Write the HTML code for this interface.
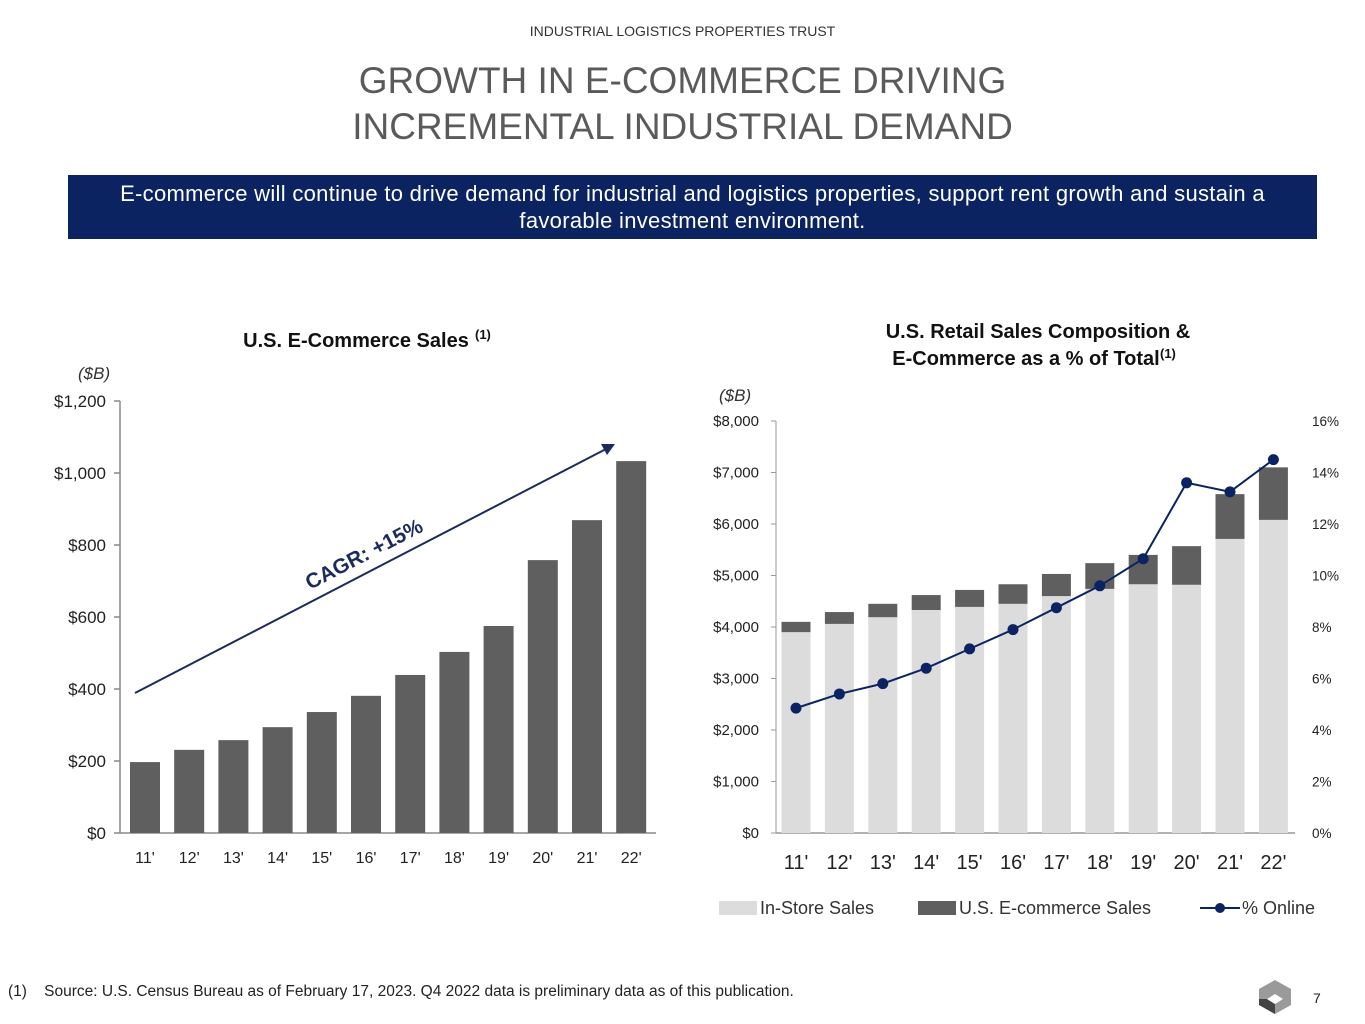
<!DOCTYPE html>
<html><head><meta charset="utf-8">
<style>
body{margin:0;width:1365px;height:1024px;background:#fff;font-family:"Liberation Sans",sans-serif;overflow:hidden;position:relative}
.abs{position:absolute}
</style></head>
<body>
<div class="abs" style="top:23px;left:0;width:1365px;text-align:center;font-size:14px;color:#333">INDUSTRIAL LOGISTICS PROPERTIES TRUST</div>
<div class="abs" style="top:58px;left:0;width:1365px;text-align:center;font-size:37px;line-height:46px;color:#5a5a5a">GROWTH IN E-COMMERCE DRIVING<br>INCREMENTAL INDUSTRIAL DEMAND</div>
<div class="abs" style="top:175px;left:68px;width:1249px;height:64px;background:#0b2461;color:#fff;font-size:22px;letter-spacing:0.3px;line-height:27px;text-align:center;padding-top:5px;box-sizing:border-box;white-space:nowrap">E-commerce will continue to drive demand for industrial and logistics properties, support rent growth and sustain a<br>favorable investment environment.</div>
<svg class="abs" style="left:0;top:0" width="1365" height="1024" id="svg"></svg>
<div class="abs" style="top:983px;left:8px;font-size:15.5px;color:#222;white-space:nowrap">(1)&nbsp;&nbsp;&nbsp; Source: U.S. Census Bureau as of February 17, 2023. Q4 2022 data is preliminary data as of this publication.</div>
<svg class="abs" style="left:1255px;top:977px" width="40" height="40">
<polygon points="20,3 36,12 36,28 20,37 4,28 4,12" fill="#9a9a9a"/>
<polygon points="4,28 20,37 20,27 12,22 4,22" fill="#444"/>
<polygon points="20,17 28,22 20,27 12,22" fill="#fff"/>
</svg>
<div class="abs" style="top:990px;left:1313px;font-size:14px;color:#222">7</div>
<script>
const categories=["11'","12'","13'","14'","15'","16'","17'","18'","19'","20'","21'","22'"];
const ecomSales=[197,231,258,294,336,381,439,503,575,758,869,1033];
const leftTicks=[0,200,400,600,800,1000,1200];
const leftTickLabels=["$0","$200","$400","$600","$800","$1,000","$1,200"];
const inStore=[3900,4060,4190,4330,4390,4450,4600,4740,4830,4820,5710,6080];
const ecomRetail=[200,230,260,290,330,380,430,500,570,750,870,1020];
const pctOnline=[4.85,5.4,5.8,6.4,7.15,7.9,8.75,9.6,10.65,13.6,13.25,14.5];
const rightTicks=[0,1000,2000,3000,4000,5000,6000,7000,8000];
const rightTickLabels=["$0","$1,000","$2,000","$3,000","$4,000","$5,000","$6,000","$7,000","$8,000"];
const pctTicks=[0,2,4,6,8,10,12,14,16];
const pctTickLabels=["0%","2%","4%","6%","8%","10%","12%","14%","16%"];

const svg=document.getElementById('svg');const NS='http://www.w3.org/2000/svg';
function el(t,a,txt){const e=document.createElementNS(NS,t);for(const k in a)e.setAttribute(k,a[k]);if(txt!==undefined)e.textContent=txt;svg.appendChild(e);return e;}

// left chart
const L={x0:120,x1:656,y0:833,y1:401,max:1200};
const ly=v=>L.y0-(v/L.max)*(L.y0-L.y1);
const lx=i=>145+i*44.2;
let t=el('text',{x:356,y:347,'text-anchor':'middle','font-size':20,'font-weight':'bold',fill:'#111'},'U.S. E-Commerce Sales');

t=el('text',{x:475,y:339,'font-size':13,'font-weight':'bold',fill:'#111'},'(1)');

t=el('text',{x:78,y:379,'font-size':17,'font-style':'italic',fill:'#333'},'($B)');

let a=el('line',{x1:L.x0,y1:L.y1,x2:L.x0,y2:L.y0,stroke:'#888','stroke-width':1.5});

a=el('line',{x1:L.x0,y1:L.y0,x2:L.x1,y2:L.y0,stroke:'#888','stroke-width':1.5});

leftTicks.forEach((v,i)=>{
 const k=el('line',{x1:L.x0-6,y1:ly(v),x2:L.x0,y2:ly(v),stroke:'#888','stroke-width':1.5});
 
 const s=el('text',{x:L.x0-14,y:ly(v)+6,'text-anchor':'end','font-size':17,fill:'#222'},leftTickLabels[i]);
 
});
ecomSales.forEach((v,i)=>{
 const r=el('rect',{x:lx(i)-15,y:ly(v),width:30,height:L.y0-ly(v),fill:'#5f5f5f'});
 
 const s=el('text',{x:lx(i),y:863,'text-anchor':'middle','font-size':16,fill:'#222'},categories[i]);
 
});
a=el('line',{x1:135,y1:693,x2:606,y2:449,stroke:'#1d2a5e','stroke-width':2});

a=el('polygon',{points:'615,444 601,444 607,455',fill:'#1d2a5e'});

t=el('text',{x:0,y:0,'font-size':21,'font-weight':'bold',fill:'#1d2a5e',transform:'translate(310,590) rotate(-27.4)'},'CAGR: +15%');


// right chart
const R={x0:780,x1:1295,y0:833,y1:421,max:8000,pmax:16};
const ry=v=>R.y0-(v/R.max)*(R.y0-R.y1);
const py=v=>R.y0-(v/R.pmax)*(R.y0-R.y1);
const rx=i=>796+i*43.4;
t=el('text',{x:1038,y:338,'text-anchor':'middle','font-size':20,'font-weight':'bold',fill:'#111'},'U.S. Retail Sales Composition &');

t=el('text',{x:1026,y:365,'text-anchor':'middle','font-size':20,'font-weight':'bold',fill:'#111'},'E-Commerce as a % of Total');

t=el('text',{x:1160,y:358,'font-size':13,'font-weight':'bold',fill:'#111'},'(1)');

t=el('text',{x:719,y:401,'font-size':17,'font-style':'italic',fill:'#333'},'($B)');

a=el('line',{x1:776,y1:R.y1,x2:776,y2:R.y0,stroke:'#999','stroke-width':1});

a=el('line',{x1:776,y1:R.y0,x2:R.x1,y2:R.y0,stroke:'#999','stroke-width':1.5});

rightTicks.forEach((v,i)=>{
 const k=el('line',{x1:771,y1:ry(v),x2:776,y2:ry(v),stroke:'#999','stroke-width':1});
 
 const s=el('text',{x:759,y:ry(v)+5,'text-anchor':'end','font-size':15,fill:'#222'},rightTickLabels[i]);
 
});
pctTicks.forEach((v,i)=>{
 const s=el('text',{x:1312,y:py(v)+5,'font-size':13.5,fill:'#222'},pctTickLabels[i]);
 
});
inStore.forEach((v,i)=>{
 const r=el('rect',{x:rx(i)-14.5,y:ry(v),width:29,height:R.y0-ry(v),fill:'#dcdcdc'});
 
 const r2=el('rect',{x:rx(i)-14.5,y:ry(v+ecomRetail[i]),width:29,height:ry(v)-ry(v+ecomRetail[i]),fill:'#5f5f5f'});
 
 const s=el('text',{x:rx(i),y:869,'text-anchor':'middle','font-size':20,fill:'#222'},categories[i]);
 
});
const pts=pctOnline.map((v,i)=>rx(i)+','+py(v)).join(' ');
a=el('polyline',{points:pts,fill:'none',stroke:'#0b2461','stroke-width':2});

pctOnline.forEach((v,i)=>{
 const c=el('circle',{cx:rx(i),cy:py(v),r:5.5,fill:'#0b2461'});
 
});
// legend
a=el('rect',{x:719,y:901,width:38,height:14,fill:'#dcdcdc'});

t=el('text',{x:760,y:914,'font-size':18,fill:'#333'},'In-Store Sales');

a=el('rect',{x:918,y:901,width:38,height:14,fill:'#5f5f5f'});

t=el('text',{x:959,y:914,'font-size':18,fill:'#333'},'U.S. E-commerce Sales');

a=el('line',{x1:1200,y1:908,x2:1240,y2:908,stroke:'#0b2461','stroke-width':2});

a=el('circle',{cx:1220,cy:908,r:5,fill:'#0b2461'});

t=el('text',{x:1242,y:914,'font-size':18,fill:'#333'},'% Online');

</script>
</body></html>
